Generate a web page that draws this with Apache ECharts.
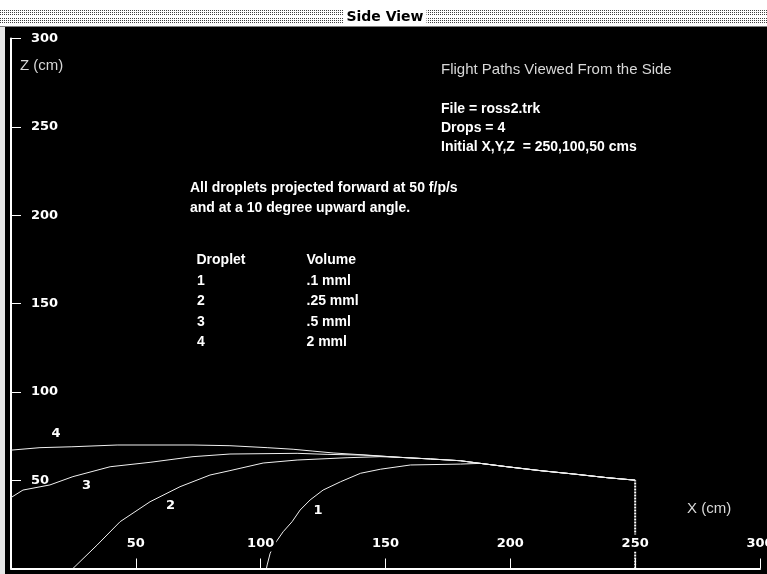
<!DOCTYPE html>
<html>
<head>
<meta charset="utf-8">
<script src="https://cdn.jsdelivr.net/npm/echarts@6/dist/echarts.min.js"></script>
<style>
  html, body { margin: 0; padding: 0; background: #000; }
  #chart { width: 767px; height: 574px; }
</style>
</head>
<body>
<div id="chart"></div>
<script>
// Side view of four droplet flight paths: X (cm) horizontal, Z (cm) height.
// Every droplet leaves the start point and travels toward smaller X.
const startPoint = [250, 50];

const drop1 = [[250,50],[238.8,51.4],[225.2,53.5],[212,55.4],[198.7,57.6],[188,59.5],[180,59.1],[160,58.6],
  [148,56.2],[140,53.9],[132,49.1],[125,44.4],[119.8,38.8],[115.8,33.1],[112.6,26.5],[109,20.8],
  [105.8,14.3],[103.8,8.6],[102.6,2],[102.3,0]];

const drop2 = [[250,50],[238.8,51.4],[225.2,53.5],[212,55.4],[198.7,57.6],[188,59.5],[180,61],[168,62],
  [156,62.9],[147.8,63.3],[134.6,62.7],[114.6,61.4],[101,59.7],[87.7,55.4],[79.7,52.9],[67.7,46.3],
  [55.7,37.8],[43.7,26.5],[34.5,13.3],[24.8,0]];

const drop3 = [[250,50],[238.8,51.4],[225.2,53.5],[212,55.4],[198.7,57.6],[188,59.5],[180,61],[168,62],
  [156,62.9],[141,64.2],[126.6,64.6],[114.6,65.2],[87.7,64.8],[72.9,63.3],[55.7,60.1],[39.7,57.6],
  [24.8,52],[15.6,47.3],[4.8,44.4],[0.4,40.5],[0,40]];

const drop4 = [[250,50],[238.8,51.4],[225.2,53.5],[212,55.4],[198.7,57.6],[188,59.5],[180,61],[168,62],
  [156,62.9],[142.6,64.2],[129,65.4],[120.6,66.5],[113,67.5],[102.6,68.4],[87.7,69.5],[72.9,69.9],
  [42.5,69.9],[24.4,68.9],[11.6,68.4],[0,67]];

const dropletIds = ['1', '2', '3', '4'];
const dropletVolumes = ['.1 mml', '.25 mml', '.5 mml', '2 mml'];

const infoLines = ['File = ross2.trk', 'Drops = 4', 'Initial X,Y,Z  = 250,100,50 cms'];
const noteLines = ['All droplets projected forward at 50 f/p/s', 'and at a 10 degree upward angle.'];

const tickFont = { fontFamily: 'DejaVu Sans', fontWeight: 'bold', fontSize: 13, color: '#fff' };
const boldText = 'bold 14px "Liberation Sans", Arial, sans-serif';
const thinText = '15px "Liberation Sans", Arial, sans-serif';

// Dotted header band texture
const tile = document.createElement('canvas');
tile.width = 2; tile.height = 26;
const tc = tile.getContext('2d');
tc.fillStyle = '#ffffff';
tc.fillRect(0, 0, 2, 26);
tc.fillStyle = '#404040';
[10, 12, 14, 18, 20, 22].forEach(r => tc.fillRect(0, r, 1, 1));

const chart = echarts.init(document.getElementById('chart'), null, { renderer: 'canvas' });

function curveSeries(name, data, labelCoord) {
  return {
    name: name,
    type: 'line',
    data: data,
    symbol: 'none',
    smooth: false,
    clip: true,
    z: 2,
    lineStyle: { color: '#f0f0f0', width: 1 },
    markPoint: {
      symbol: 'rect',
      symbolSize: 1,
      itemStyle: { color: 'rgba(0,0,0,0)' },
      label: Object.assign({ show: true, position: 'inside', formatter: '{b}', offset: [0, 2] }, tickFont),
      data: [{ name: name, coord: labelCoord }]
    }
  };
}

const graphics = [
  { type: 'rect', silent: true, shape: { x: 0, y: 0, width: 767, height: 26 },
    style: { fill: { image: tile, repeat: 'repeat' } } },
  { type: 'rect', silent: true, shape: { x: 0, y: 26, width: 767, height: 1 }, style: { fill: '#808080' } },
  { type: 'rect', silent: true, shape: { x: 0, y: 27, width: 5, height: 547 }, style: { fill: '#e6e6e6' } },
  { type: 'text', silent: true, x: 385, y: 17,
    style: { text: 'Side View', font: 'bold 14px "DejaVu Sans"', fill: '#000', align: 'center',
             verticalAlign: 'middle', backgroundColor: '#fff', padding: [2, 3] } },
  { type: 'text', silent: true, x: 20, y: 66,
    style: { text: 'Z (cm)', font: thinText, fill: '#d8d8d8', verticalAlign: 'middle' } },
  { type: 'text', silent: true, x: 687, y: 509,
    style: { text: 'X (cm)', font: thinText, fill: '#d8d8d8', verticalAlign: 'middle' } },
  { type: 'text', silent: true, x: 441, y: 70,
    style: { text: 'Flight Paths Viewed From the Side', font: thinText, fill: '#d8d8d8', verticalAlign: 'middle' } }
];

infoLines.forEach((t, i) => graphics.push({ type: 'text', silent: true, x: 441, y: 109 + i * 19,
  style: { text: t, font: boldText, fill: '#fff', verticalAlign: 'middle' } }));
noteLines.forEach((t, i) => graphics.push({ type: 'text', silent: true, x: 190, y: 188.5 + i * 19.5,
  style: { text: t, font: boldText, fill: '#fff', verticalAlign: 'middle' } }));
graphics.push({ type: 'text', silent: true, x: 196.5, y: 260,
  style: { text: 'Droplet', font: boldText, fill: '#fff', verticalAlign: 'middle' } });
graphics.push({ type: 'text', silent: true, x: 306.5, y: 260,
  style: { text: 'Volume', font: boldText, fill: '#fff', verticalAlign: 'middle' } });
dropletIds.forEach((id, i) => {
  graphics.push({ type: 'text', silent: true, x: 197, y: 280.8 + i * 20.6,
    style: { text: id, font: boldText, fill: '#fff', verticalAlign: 'middle' } });
  graphics.push({ type: 'text', silent: true, x: 306.5, y: 280.8 + i * 20.6,
    style: { text: dropletVolumes[i], font: boldText, fill: '#fff', verticalAlign: 'middle' } });
});

chart.setOption({
  animation: false,
  backgroundColor: '#000',
  grid: { left: 11, right: 7, top: 38.5, bottom: 5.5, containLabel: false, outerBoundsMode: 'none' },
  xAxis: {
    type: 'value', min: 0, max: 300, interval: 50, z: 5,
    axisLine: { show: true, lineStyle: { color: '#fff', width: 2 } },
    axisTick: { show: true, inside: true, length: 10, lineStyle: { color: '#fff', width: 1 } },
    axisLabel: Object.assign({ inside: true, margin: 17, showMinLabel: false, hideOverlap: false,
      backgroundColor: '#000', padding: [3, 2, 1, 2] }, tickFont),
    splitLine: { show: false }
  },
  yAxis: {
    type: 'value', min: 0, max: 300, interval: 50,
    axisLine: { show: true, lineStyle: { color: '#fff', width: 2 } },
    axisTick: { show: true, inside: true, length: 10, lineStyle: { color: '#fff', width: 1 } },
    axisLabel: Object.assign({ inside: true, margin: 20, showMinLabel: false, padding: [4, 0, 0, 0] }, tickFont),
    splitLine: { show: false }
  },
  series: [
    curveSeries('1', drop1, [123, 33.7]),
    curveSeries('2', drop2, [63.9, 36.5]),
    curveSeries('3', drop3, [30.2, 47.8]),
    curveSeries('4', drop4, [18, 77.3]),
    {
      name: 'start',
      type: 'line',
      data: [[startPoint[0], 0], startPoint],
      symbol: 'none',
      z: 1,
      lineStyle: { color: '#fff', width: 2, type: [2, 1] }
    }
  ],
  graphic: graphics
});
</script>
</body>
</html>
